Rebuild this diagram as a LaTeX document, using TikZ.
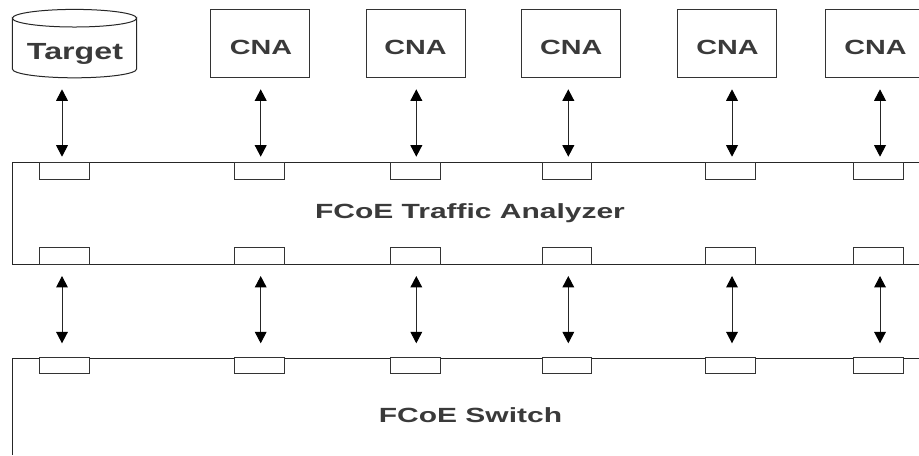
\documentclass[tikz,border=0pt]{standalone}
\usepackage{fontspec}
\usepackage{graphicx}
\setmainfont{Liberation Sans}
\usetikzlibrary{arrows.meta,shapes.geometric}
\definecolor{txt}{HTML}{3A3A3A}
\newcommand{\widetxt}[2]{\scalebox{#1}[1]{#2}}
\tikzset{
  x=0.75pt,y=-0.75pt,
  boxnode/.style={draw=black!80,line width=0.75pt,minimum width=74.5pt,minimum height=51.3pt,inner sep=0pt},
  lbl/.style={text=txt,font=\bfseries\fontsize{15.4}{18}\selectfont,inner sep=0pt,anchor=base},
  port/.style={draw=black!80,fill=white,line width=0.75pt,minimum width=37.2pt,minimum height=12.6pt,inner sep=0pt},
  link/.style={draw=black!85,line width=0.75pt,{Triangle[length=8.6pt,width=8.8pt,color=black,fill=black]}-{Triangle[length=8.6pt,width=8.8pt,color=black,fill=black]}},
  rail/.style={draw=black!85,line width=0.75pt},
}
\begin{document}
\begin{tikzpicture}
\useasboundingbox (0,0) rectangle (919,455);
\fill[white] (0,0) rectangle (919,455);
% rails
\coordinate (a0) at (919,162.3); \coordinate (a1) at (12.5,162.3); \coordinate (a2) at (12.5,264); \coordinate (a3) at (919,264);
\draw[rail] (a0) -- (a1) -- (a2) -- (a3);
\coordinate (b0) at (919,358.2); \coordinate (b1) at (12.5,358.2); \coordinate (b2) at (12.5,455);
\draw[rail] (b0) -- (b1) -- (b2);
% target cylinder
\draw[draw=black!85,line width=0.75pt,fill=white] (12.4,18.2) arc[start angle=180,end angle=0,x radius=62.1,y radius=8.8] -- (136.6,69) arc[start angle=0,end angle=180,x radius=62.1,y radius=8.8] -- cycle;
\draw[draw=black!85,line width=0.75pt] (12.4,18.2) arc[start angle=180,end angle=360,x radius=62.1,y radius=8.8];
\node[lbl] (target) at (75,59.6) {\fontsize{17.5}{18}\selectfont\widetxt{1.38}{Target}};
% CNA
\foreach \n/\x/\tx in {1/260/261,2/415.7/415.5,3/571.3/571.3,4/727.3/727.5,5/875.3/875.5}{
  \node[boxnode] (c\n) at (\x,43.5) {};
  \node[lbl] (l\n) at (\tx,54) {\widetxt{1.4}{CNA}};
}
% ports
\foreach \n/\x in {0/64.3,1/259.4,2/415.2,3/566.8,4/730.5,5/878.5}{
  \node[port] (p\n) at (\x,170.7) {};
  \node[port] (q\n) at (\x,255.8) {};
  \node[port] (r\n) at (\x,365.5) {};
}
% links
\foreach \n/\x in {0/62,1/260.7,2/416.3,3/568.3,4/732,5/880}{
  \coordinate (u\n) at (\x,89.3); \coordinate (v\n) at (\x,156.7);
  \coordinate (w\n) at (\x,276); \coordinate (z\n) at (\x,343.3);
  \draw[link] (u\n) -- (v\n);
  \draw[link] (w\n) -- (z\n);
}
\node[lbl] (ana) at (470,218.2) {\widetxt{1.46}{FCoE Traffic Analyzer}};
\node[lbl] (sw) at (470.5,422) {\widetxt{1.46}{FCoE Switch}};
\end{tikzpicture}
\end{document}
